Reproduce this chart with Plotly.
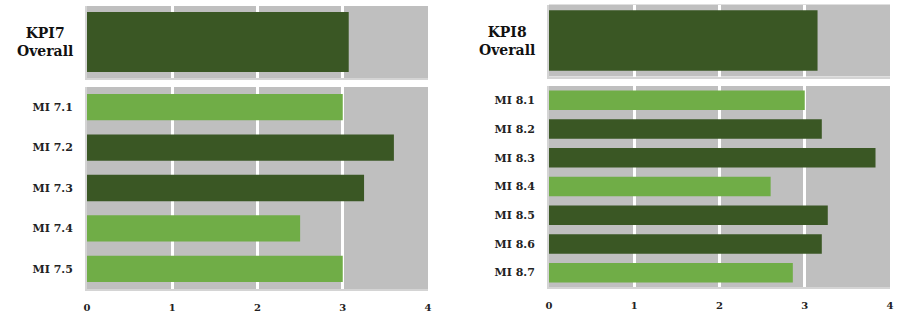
import plotly.graph_objects as go

# ---- data ----
kpi7_overall_label = ["KPI7<br>Overall"]
kpi7_overall_value = [3.07]
kpi7_mi_labels = ["MI 7.1", "MI 7.2", "MI 7.3", "MI 7.4", "MI 7.5"]
kpi7_mi_values = [3.0, 3.6, 3.25, 2.5, 3.0]

kpi8_overall_label = ["KPI8<br>Overall"]
kpi8_overall_value = [3.15]
kpi8_mi_labels = ["MI 8.1", "MI 8.2", "MI 8.3", "MI 8.4", "MI 8.5", "MI 8.6", "MI 8.7"]
kpi8_mi_values = [3.0, 3.2, 3.83, 2.6, 3.27, 3.2, 2.86]

x_ticks = [0, 1, 2, 3, 4]

DARK = "#3A5724"
LIGHT = "#70AD47"
GRAY = "#BFBFBF"
FONT = "DejaVu Serif, Liberation Serif, serif"


def colors(vals):
    return [DARK if v > 3 else LIGHT for v in vals]


W, H = 907, 317


def xd(a, b):
    return [a / W, b / W]


def yd(top, bottom):
    return [1 - bottom / H, 1 - top / H]


fig = go.Figure()

panels = [
    (kpi7_overall_label, kpi7_overall_value, "x", "y", xd(87, 428), yd(6, 78), 0.83, True),
    (kpi7_mi_labels, kpi7_mi_values, "x2", "y2", xd(87, 428), yd(87, 289), 0.65, False),
    (kpi8_overall_label, kpi8_overall_value, "x3", "y3", xd(549, 890), yd(4.5, 76.5), 0.84, True),
    (kpi8_mi_labels, kpi8_mi_values, "x4", "y4", xd(549, 890), yd(86, 287), 0.68, False),
]

for labels, vals, xa, ya, xdom, ydom, bw, top in panels:
    fig.add_trace(go.Bar(
        y=labels, x=vals, orientation="h", xaxis=xa, yaxis=ya,
        marker=dict(color=colors(vals), line=dict(width=0)),
        width=bw, showlegend=False, hoverinfo="x+y",
    ))
    xkey = "xaxis" + xa[1:]
    ykey = "yaxis" + ya[1:]
    fig.layout[xkey] = dict(
        domain=xdom, range=[0, 4], anchor=ya,
        tickmode="array", tickvals=x_ticks,
        ticktext=["<b>%d</b>" % t for t in x_ticks],
        showgrid=True, gridcolor="white", gridwidth=3,
        showticklabels=not top, zeroline=False, automargin=False,
        showline=True, linecolor="#D4D4D4", linewidth=2,
        tickfont=dict(family=FONT, size=10, color="#222222"),
        ticklabelstandoff=8, fixedrange=True,
    )
    fig.layout[ykey] = dict(
        domain=ydom, anchor=xa, autorange="reversed",
        tickmode="array", tickvals=labels,
        ticktext=["<b>" + l + "</b>" for l in labels],
        showticklabels=not top, showgrid=False, zeroline=False, automargin=False,
        showline=True, linecolor="#D4D4D4", linewidth=2,
        tickfont=dict(family=FONT, size=11, color="#222222"),
        ticklabelstandoff=10, fixedrange=True,
    )
    if top:
        fig.add_annotation(
            text="<b>" + labels[0] + "</b>", xref="paper", yref="paper",
            x=xdom[0] - 12 / W, y=(ydom[0] + ydom[1]) / 2,
            xanchor="right", yanchor="middle", align="center", showarrow=False,
            font=dict(family=FONT, size=14, color="#111111"),
        )

fig.update_layout(
    width=W, height=H,
    margin=dict(l=0, r=0, t=0, b=0, autoexpand=False),
    paper_bgcolor="white", plot_bgcolor=GRAY,
)

fig.write_html(
    "out.html",
    config={"displayModeBar": False},
    post_script="document.body.style.margin='0';document.body.style.overflow='hidden';",
)
